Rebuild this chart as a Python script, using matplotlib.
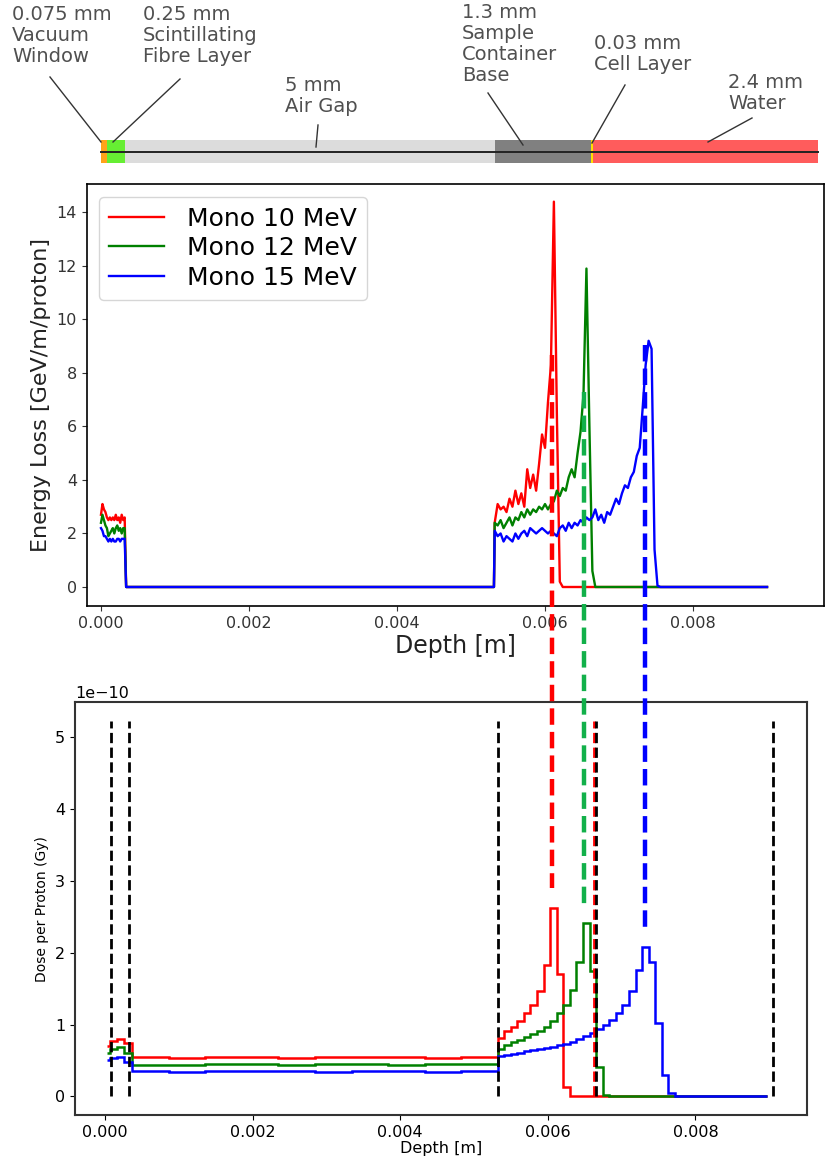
import numpy as np
import matplotlib.pyplot as plt
import matplotlib.transforms as mtransforms
from matplotlib.lines import Line2D

# ---- layer schematic ----
layer_labels = ['0.075 mm\nVacuum\nWindow', '0.25 mm\nScintillating\nFibre Layer', '5 mm\nAir Gap',
                '1.3 mm\nSample\nContainer\nBase', '0.03 mm\nCell Layer', '2.4 mm\nWater']
layer_thickness_mm = [0.075, 0.25, 5.0, 1.3, 0.03, 2.4]
layer_bar_mm = [0.075, 0.25, 5.0, 1.3, 0.03, 3.04]   # water segment is drawn longer in the sketch
layer_colors = ['#ffa31a', '#66ee33', '#dcdcdc', '#808080', '#ffe000', '#ff5c5c']

# ---- energy loss per proton (GeV/m) ----
series_labels = ['Mono 10 MeV', 'Mono 12 MeV', 'Mono 15 MeV']
series_colors = ['red', 'green', 'blue']

eloss_depth_front = np.arange(17) * 0.00002           # 0 .. 0.00032 m
red_front = [2.7, 3.1, 2.9, 2.8, 2.6, 2.5, 2.6, 2.5, 2.6, 2.5, 2.7, 2.5, 2.6, 2.4, 2.7, 2.5, 2.6]
green_front = [2.4, 2.7, 2.5, 2.3, 2.2, 1.9, 2.0, 2.1, 2.2, 2.0, 2.2, 2.3, 2.1, 2.2, 2.0, 2.2, 2.2]
blue_front = [2.2, 2.1, 1.9, 1.9, 1.8, 1.7, 1.8, 1.7, 1.8, 1.7, 1.7, 1.8, 1.8, 1.7, 1.8, 1.8, 1.8]

eloss_depth_peak = 0.00532 + np.arange(58) * 0.00004   # 0.00532 .. 0.0076 m
red_peak = [2.4, 3.1, 2.9, 3.0, 2.8, 3.3, 3.0, 3.6, 3.1, 3.5,
            3.0, 4.4, 3.7, 4.2, 3.6, 4.6, 5.7, 5.2, 6.9, 8.3,
            14.4, 6.5, 0.2] + [0.0] * 35
green_peak = [2.4, 2.3, 2.5, 2.2, 2.4, 2.6, 2.3, 2.6, 2.5, 2.8,
              2.6, 2.9, 2.7, 2.9, 2.8, 3.0, 2.9, 3.1, 2.9, 3.1,
              3.2, 3.6, 3.4, 3.7, 3.6, 4.1, 4.4, 4.1, 5.0, 5.8,
              7.2, 11.9, 6.0, 0.6, 0.0] + [0.0] * 23
blue_peak = [2.1, 1.9, 2.0, 1.7, 1.9, 1.8, 1.7, 2.0, 1.8, 2.0,
             2.1, 1.9, 2.2, 2.1, 2.0, 2.1, 2.2, 2.1, 2.0, 2.1,
             2.0, 1.9, 2.2, 2.3, 2.1, 2.4, 2.2, 2.4, 2.3, 2.5,
             2.4, 2.6, 2.5, 2.6, 2.9, 2.5, 2.7, 2.4, 2.8, 2.7,
             3.0, 3.3, 3.1, 3.5, 3.8, 3.7, 4.1, 4.3, 4.9, 5.2,
             6.7, 8.3, 9.2, 8.9, 1.4, 0.05, 0.0, 0.0]
bragg_peak_depth = [0.006095, 0.006523, 0.007351]
bragg_line_colors = ['#ff0000', '#12b04a', '#0000ff']

# ---- dose per proton (1e-10 Gy), step histograms ----
dose_edges = np.concatenate([[0.000023, 0.000068, 0.000168, 0.000258],
                             np.linspace(0.00037, 0.00532, 11)[:-1],
                             np.linspace(0.00532, 0.00897, 42)])
red_dose = ([0.70, 0.775, 0.805, 0.74] +
            [0.55, 0.54, 0.55, 0.55, 0.54, 0.55, 0.55, 0.55, 0.54, 0.55] +
            [0.81, 0.91, 0.97, 1.05, 1.16, 1.27, 1.46, 1.83, 2.62, 1.71, 0.13] + [0.0] * 30)
green_dose = ([0.61, 0.665, 0.68, 0.60] +
              [0.44, 0.44, 0.45, 0.45, 0.44, 0.45, 0.45, 0.44, 0.45, 0.45] +
              [0.655, 0.715, 0.75, 0.785, 0.82, 0.865, 0.915, 0.97, 1.05, 1.16,
               1.27, 1.48, 1.87, 2.42, 1.74, 0.41, 0.02] + [0.0] * 24)
blue_dose = ([0.50, 0.54, 0.55, 0.48] +
             [0.35, 0.34, 0.35, 0.35, 0.35, 0.34, 0.35, 0.35, 0.34, 0.35] +
             [0.56, 0.58, 0.59, 0.61, 0.63, 0.64, 0.66, 0.67, 0.69, 0.71,
              0.73, 0.76, 0.80, 0.84, 0.88, 0.94, 0.99, 1.06, 1.16, 1.27,
              1.46, 1.76, 2.08, 1.87, 1.02, 0.30, 0.04] + [0.0] * 14)

W, H = 825, 1161
fig = plt.figure(figsize=(W / 100, H / 100), dpi=100)
px = mtransforms.Affine2D().scale(1 / W, -1 / H).translate(0, 1) + fig.transFigure


def box(left, top, right, bottom):
    return [left / W, 1 - bottom / H, (right - left) / W, (bottom - top) / H]


# ---- schematic of the layers ----
ax_d = fig.add_axes(box(0, 0, W, 170))
ax_d.set_xlim(-101 / 74, (W - 101) / 74)
ax_d.set_ylim(170, 0)
ax_d.axis('off')
starts = np.concatenate([[0], np.cumsum(layer_bar_mm)[:-1]])
ax_d.barh(151.5, layer_bar_mm, left=starts, height=23, color=layer_colors)
ax_d.plot([0, sum(layer_bar_mm)], [151.5, 151.5], color='#222222', lw=1.4)

label_pos = [(12, 5), (143, 5), (285, 76), (462, 3), (594, 34), (728, 73)]
leaders = [((50, 77), (101, 142)), ((180, 79), (113, 142)), ((318, 125), (316, 147)),
           ((488, 93), (523, 145)), ((625, 85), (592, 143)), ((752, 118), (708, 142))]
for lab, (tx, ty), (p0, p1) in zip(layer_labels, label_pos, leaders):
    fig.text(tx, ty, lab, transform=px, ha='left', va='top', fontsize=14,
             color='#505050', linespacing=1.13)
    fig.add_artist(Line2D([p0[0], p1[0]], [p0[1], p1[1]], transform=px,
                          color='#333333', lw=1))

# ---- energy loss ----
ax_e = fig.add_axes(box(86.7, 184, 824, 606))
for front, peak, c, lab in zip([red_front, green_front, blue_front],
                               [red_peak, green_peak, blue_peak],
                               series_colors, series_labels):
    x = np.concatenate([eloss_depth_front, [0.00034, 0.00531], eloss_depth_peak, [0.009]])
    y = np.concatenate([front, [0, 0], peak, [0]])
    ax_e.plot(x, y, color=c, lw=1.7, label=lab)
ax_e.set_xlim(-0.000193, 0.00977)
ax_e.set_ylim(-0.71, 15.06)
ax_e.set_xticks([0, 0.002, 0.004, 0.006, 0.008])
ax_e.set_yticks(range(0, 15, 2))
ax_e.tick_params(labelsize=11.5, labelcolor='#333333', color='#333333')
ax_e.set_xlabel('Depth [m]', fontsize=17, color='#222222', labelpad=2)
ax_e.set_ylabel('Energy Loss [GeV/m/proton]', fontsize=16, color='#222222')
ax_e.legend(loc='upper left', fontsize=18, handlelength=2.2, handletextpad=0.9,
            labelspacing=0.22, edgecolor='#cccccc')
for s in ax_e.spines.values():
    s.set_linewidth(1.2)

# ---- dose per proton ----
ax_b = fig.add_axes(box(75, 702.3, 806.7, 1115))
for vals, c in zip([red_dose, green_dose, blue_dose], series_colors):
    ax_b.stairs(np.array(vals) * 1e-10, dose_edges, color=c, lw=1.8, baseline=None)
bounds = np.cumsum(layer_thickness_mm) / 1000
for i, b in enumerate(bounds):
    ax_b.vlines(b, 0, 5.22e-10, colors='red' if i == 3 else 'black',
                linestyles='--', lw=2, zorder=4 if i == 3 else 5)
ax_b.set_xlim(-0.000407, 0.009508)
ax_b.set_ylim(-0.26e-10, 5.487e-10)
ax_b.set_xticks([0, 0.002, 0.004, 0.006, 0.008])
ax_b.tick_params(labelsize=11.5)
ax_b.yaxis.get_offset_text().set_fontsize(11.5)
ax_b.set_xlabel('Depth [m]', fontsize=11.5, labelpad=1)
ax_b.set_ylabel('Dose per Proton (Gy)', fontsize=10)
for s in ax_b.spines.values():
    s.set_linewidth(1.5)
    s.set_color('#333333')

# ---- Bragg peak markers spanning both panels ----
blend = mtransforms.blended_transform_factory(ax_e.transData, px)
for d, c, (y0, y1) in zip(bragg_peak_depth, bragg_line_colors, [(355, 888), (392, 910), (345, 928)]):
    fig.add_artist(Line2D([d, d], [y0, y1], transform=blend, color=c, lw=3.2,
                          linestyle='--', zorder=6))

fig.savefig('out.png', dpi=100)
